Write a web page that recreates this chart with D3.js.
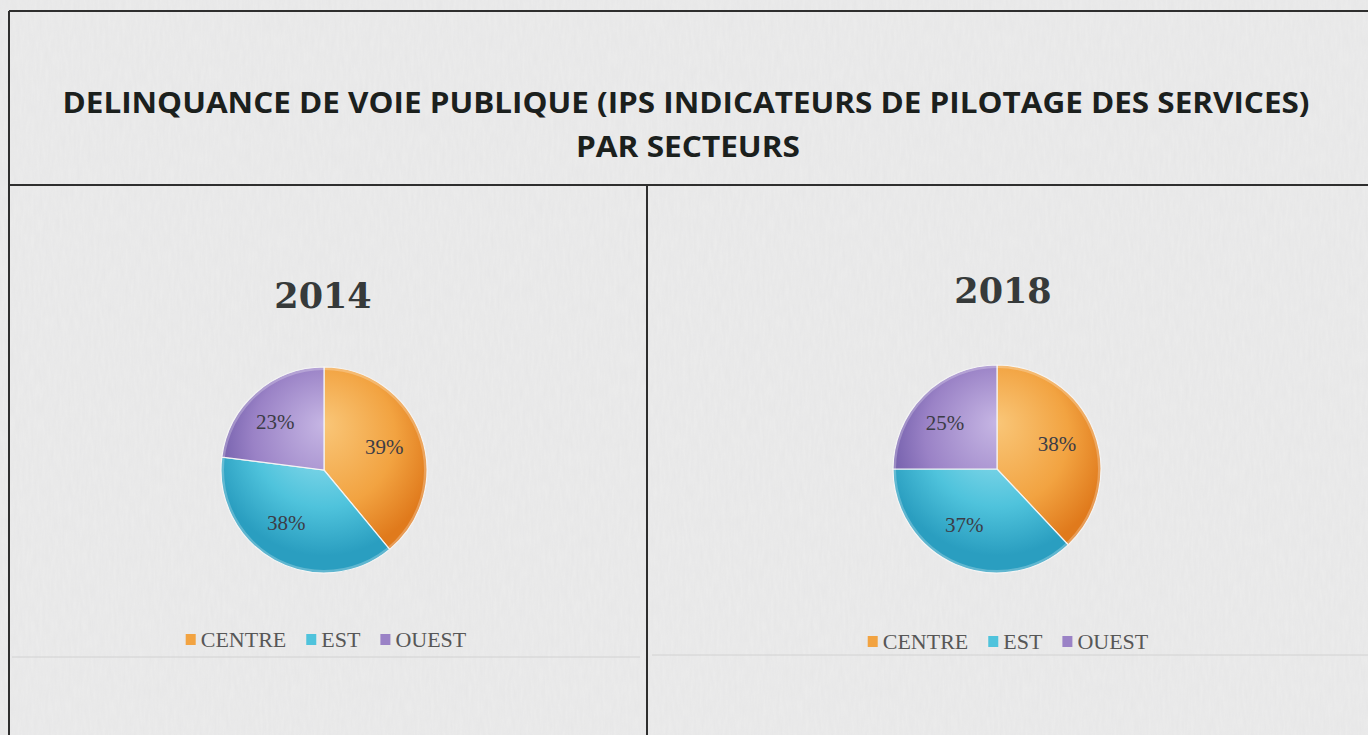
<!DOCTYPE html>
<html><head><meta charset="utf-8">
<script src="https://cdn.jsdelivr.net/npm/d3@7"></script>
<style>html,body{margin:0;padding:0;background:#e9e9e9;overflow:hidden}</style>
</head><body>
<svg id="c" width="1368" height="735"></svg>
<script>
const titleLines = ["DELINQUANCE DE VOIE PUBLIQUE (IPS INDICATEURS DE PILOTAGE DES SERVICES)", "PAR SECTEURS"];
const categories = ["CENTRE", "EST", "OUEST"];
const years = ["2014", "2018"];
const values2014 = [39, 38, 23];
const values2018 = [38, 37, 25];
const seriesValues = [values2014, values2018];

const svg = d3.select("#c");
const W = 1368, H = 735;

// paper background with light scan texture
const defs = svg.append("defs");
const f = defs.append("filter").attr("id","noise").attr("x",0).attr("y",0).attr("width","100%").attr("height","100%");
f.append("feTurbulence").attr("type","fractalNoise").attr("baseFrequency","0.35 0.06").attr("numOctaves",2).attr("seed",3);
f.append("feColorMatrix").attr("type","matrix").attr("values","0 0 0 0 0.6  0 0 0 0 0.6  0 0 0 0 0.62  0 0 0 0.5 0");
svg.append("rect").attr("width",W).attr("height",H).attr("fill","#ececec");
svg.append("rect").attr("width",W).attr("height",H).attr("filter","url(#noise)").attr("opacity",0.35);

// table borders
const border = svg.append("g").attr("stroke","#2e2e2e").attr("stroke-width",2).attr("fill","none");
border.append("line").attr("x1",9).attr("x2",W).attr("y1",11).attr("y2",11);
border.append("line").attr("x1",9).attr("x2",9).attr("y1",11).attr("y2",H);
border.append("line").attr("x1",9).attr("x2",W).attr("y1",185).attr("y2",185);
border.append("line").attr("x1",647).attr("x2",647).attr("y1",185).attr("y2",H);
// faint chart-area lines
svg.append("line").attr("x1",12).attr("x2",640).attr("y1",657).attr("y2",657).attr("stroke","#d2d2d2");
svg.append("line").attr("x1",652).attr("x2",W).attr("y1",655).attr("y2",655).attr("stroke","#d2d2d2");

// title
svg.append("text").attr("x",686).attr("y",113).attr("text-anchor","middle")
  .attr("font-family","Open Sans").attr("font-weight",700).attr("font-size",29)
  .attr("fill","#1b201d").attr("textLength",1247).attr("lengthAdjust","spacingAndGlyphs")
  .text(titleLines[0]);
svg.append("text").attr("x",688).attr("y",157).attr("text-anchor","middle")
  .attr("font-family","Open Sans").attr("font-weight",700).attr("font-size",29)
  .attr("fill","#1b201d").attr("textLength",224).attr("lengthAdjust","spacingAndGlyphs")
  .text(titleLines[1]);

const baseColors = ["#f2a341","#4fc3dc","#9a82c6"];
const lightColors = ["#f9c678","#9fe2f0","#c6b6e4"];
const darkColors = ["#e07a1c","#2a9ec0","#6e5aa8"];

const panels = [
  {cx:324, cy:470, r:103, tx:323, ty:308, lx:326, ly:647},
  {cx:997, cy:469, r:104, tx:1003, ty:303, lx:1008, ly:649}
];

const color = d3.scaleOrdinal().domain(categories).range(baseColors);
const pie = d3.pie().sort(null).value(d => d.v);

panels.forEach((p, pi) => {
  const data = categories.map((c,i) => ({c, v: seriesValues[pi][i], i}));
  const g = svg.append("g").attr("transform",`translate(${p.cx},${p.cy})`);

  // gradients
  categories.forEach((c,i) => {
    const gr = defs.append("radialGradient").attr("id",`g${pi}_${i}`)
      .attr("gradientUnits","userSpaceOnUse").attr("cx",p.cx).attr("cy",p.cy - p.r*0.25)
      .attr("r",p.r*1.15).attr("fx",p.cx).attr("fy",p.cy - p.r*0.45)
      .attr("gradientTransform",`translate(${-p.cx},${-p.cy})`);
    gr.append("stop").attr("offset","0").attr("stop-color",lightColors[i]);
    gr.append("stop").attr("offset","0.6").attr("stop-color",baseColors[i]);
    gr.append("stop").attr("offset","0.95").attr("stop-color",darkColors[i]);
  });

  const arc = d3.arc().innerRadius(0).outerRadius(p.r);
  const arcs = pie(data);
  g.selectAll("path.s").data(arcs).join("path").attr("class","s")
    .attr("d",arc).attr("fill",d => `url(#g${pi}_${d.data.i})`)
    .attr("stroke","#f4f4f4").attr("stroke-width",1.2);
  // soft rim shading
  g.append("circle").attr("r",p.r-1.5).attr("fill","none")
    .attr("stroke","#ffffff").attr("stroke-opacity",0.25).attr("stroke-width",3);

  const labelArc = d3.arc().innerRadius(p.r*0.6).outerRadius(p.r*0.6);
  g.selectAll("text.l").data(arcs).join("text").attr("class","l")
    .attr("transform",d => { const [x,y] = labelArc.centroid(d); return `translate(${x - (d.data.i===0?-2:8)},${y - 2})`; })
    .attr("text-anchor","middle").attr("dy","0.35em")
    .attr("font-family","Liberation Serif").attr("font-size",21)
    .attr("fill","#3c3c46")
    .text(d => d.data.v + "%");

  // year title
  svg.append("text").attr("x",p.tx).attr("y",p.ty).attr("text-anchor","middle")
    .attr("font-family","DejaVu Serif").attr("font-weight",700).attr("font-size",35)
    .attr("fill","#363a3a").text(years[pi]);

  // legend
  const lg = svg.append("g");
  let x = 0;
  categories.forEach((c,i) => {
    const it = lg.append("g").attr("transform",`translate(${x},0)`);
    it.append("rect").attr("x",0).attr("y",-13).attr("width",10).attr("height",11)
      .attr("fill",`url(#g${pi}_${i})`).attr("fill",color(c));
    const t = it.append("text").attr("x",15).attr("y",0)
      .attr("font-family","Liberation Serif").attr("font-size",22).attr("fill","#575757").text(c);
    const w = t.node().getComputedTextLength();
    x += 15 + w + 20;
  });
  const total = x - 20;
  lg.attr("transform",`translate(${p.lx - total/2},${p.ly})`);
});
</script>
</body></html>
